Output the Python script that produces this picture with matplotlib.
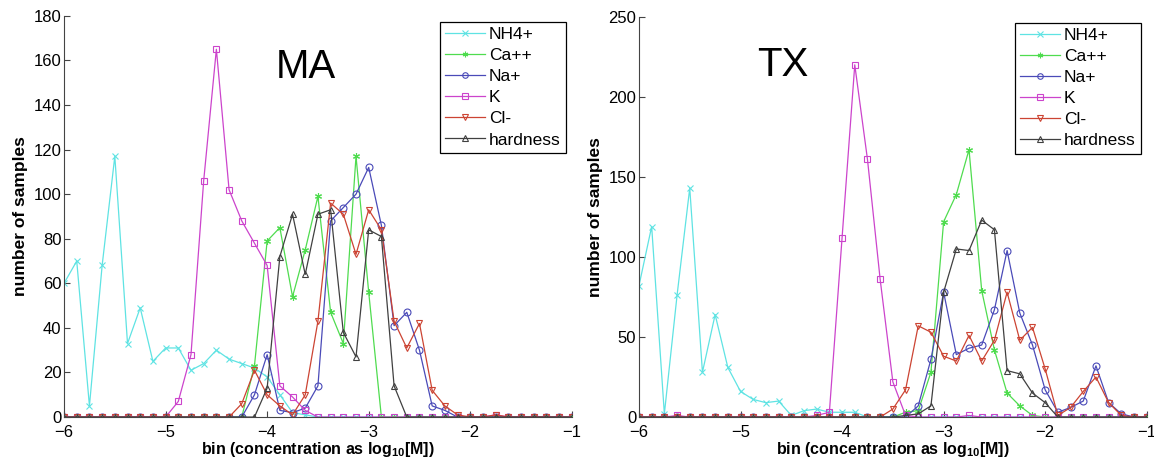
import numpy as np
import matplotlib
matplotlib.use("Agg")
from matplotlib import pyplot as plt

plt.rcParams['font.family'] = ['Liberation Sans', 'DejaVu Sans']
plt.rcParams['mathtext.fontset'] = 'custom'
plt.rcParams['mathtext.rm'] = 'Liberation Sans'
plt.rcParams['mathtext.bf'] = 'Liberation Sans:bold'

# bins: log10 concentration, 8 per decade
bins = np.arange(41) * 0.125 - 6

names = ['NH4+', 'Ca++', 'Na+', 'K', 'Cl-', 'hardness']

# MA counts per bin
ma_nh4 = [60, 70, 5, 68, 117, 33, 49, 25, 31, 31, 21, 24, 30, 26, 24, 22, 18, 10, 2, 1,
          0, 0, 0, 0, 0, 0, 0, 0, 0, 0, 0, 0, 0, 0, 0, 0, 0, 0, 0, 0, 0]
ma_ca = [0, 0, 0, 0, 0, 0, 0, 0, 0, 0, 0, 0, 0, 0, 0, 23, 79, 85, 54, 75,
         99, 47, 33, 117, 56, 0, 0, 0, 0, 0, 0, 0, 0, 0, 0, 0, 0, 0, 0, 0, 0]
ma_na = [0, 0, 0, 0, 0, 0, 0, 0, 0, 0, 0, 0, 0, 0, 0, 10, 28, 3, 2, 4,
         14, 88, 94, 100, 112, 86, 41, 47, 30, 5, 3, 0, 0, 0, 0, 0, 0, 0, 0, 0, 0]
ma_k = [0, 0, 0, 0, 0, 0, 0, 0, 0, 7, 28, 106, 165, 102, 88, 78, 68, 14, 9, 3,
        0, 0, 0, 0, 0, 0, 0, 0, 0, 0, 0, 0, 0, 0, 1, 0, 0, 0, 0, 0, 0]
ma_cl = [0, 0, 0, 0, 0, 0, 0, 0, 0, 0, 0, 0, 0, 0, 6, 21, 10, 5, 1, 10,
         43, 96, 91, 73, 93, 84, 43, 31, 42, 12, 5, 1, 0, 0, 1, 0, 0, 0, 0, 0, 0]
ma_hard = [0, 0, 0, 0, 0, 0, 0, 0, 0, 0, 0, 0, 0, 0, 0, 0, 13, 72, 91, 64,
           91, 93, 38, 27, 84, 81, 14, 0, 0, 0, 0, 0, 0, 0, 0, 0, 0, 0, 0, 0, 0]

# TX counts per bin
tx_nh4 = [82, 119, 2, 76, 143, 28, 64, 31, 16, 11, 9, 10, 1, 4, 5, 3, 3, 3, 0, 0,
          0, 0, 0, 0, 0, 0, 0, 0, 0, 0, 0, 0, 0, 0, 0, 0, 0, 0, 0, 0, 0]
tx_ca = [0, 0, 0, 0, 0, 0, 0, 0, 0, 0, 0, 0, 0, 0, 0, 0, 0, 0, 0, 0,
         0, 3, 4, 28, 122, 139, 167, 79, 42, 15, 7, 1, 0, 0, 0, 0, 0, 0, 0, 0, 0]
tx_na = [0, 0, 0, 0, 0, 0, 0, 0, 0, 0, 0, 0, 0, 0, 0, 0, 0, 0, 0, 0,
         0, 0, 7, 36, 78, 39, 43, 45, 67, 104, 65, 45, 17, 3, 6, 10, 32, 9, 2, 0, 0]
tx_k = [0, 0, 0, 1, 0, 0, 0, 0, 0, 0, 0, 0, 0, 0, 1, 3, 112, 220, 161, 86,
        22, 1, 0, 0, 0, 0, 1, 0, 0, 0, 0, 0, 0, 0, 0, 0, 0, 0, 0, 0, 0]
tx_cl = [0, 0, 0, 0, 0, 0, 0, 0, 0, 0, 0, 0, 0, 0, 0, 0, 0, 0, 0, 0,
         5, 17, 57, 53, 38, 35, 51, 35, 48, 78, 48, 56, 30, 1, 6, 16, 25, 9, 1, 0, 0]
tx_hard = [0, 0, 0, 0, 0, 0, 0, 0, 0, 0, 0, 0, 0, 0, 0, 0, 0, 0, 0, 0,
           0, 1, 2, 7, 78, 105, 104, 123, 117, 29, 27, 15, 9, 0, 0, 0, 0, 0, 0, 0, 0]

colors = ['#5fe3e3', '#4fdc4f', '#4a4ab8', '#cc44cc', '#cc4433', '#404040']
markers = ['x', (6, 2, 0), 'o', 's', 'v', '^']


def draw(ax, series, title, ymax, ystep, tx, ty):
    for k in range(len(series)):
        ax.plot(bins, series[k], color=colors[k], marker=markers[k], ms=5,
                mfc='none', mec=colors[k], lw=0.9, mew=0.8, label=names[k])
    ax.set_xlim(-6, -1)
    ax.set_ylim(0, ymax)
    ax.set_xticks(np.arange(-6, -0.5, 1))
    ax.set_yticks(np.arange(0, ymax + 1, ystep))
    ax.tick_params(direction='in', labelsize=12, length=4, color='#444444', pad=2)
    ax.tick_params(axis='x', pad=6)
    for s in ['top', 'right']:
        ax.spines[s].set_visible(False)
    for s in ['left', 'bottom']:
        ax.spines[s].set_color('#444444')
    ax.set_xlabel('bin (concentration as log$_{\\mathbf{10}}$[M])',
                  fontsize=11.5, fontweight='bold', labelpad=0)
    ax.set_ylabel('number of samples', fontsize=12.5, fontweight='bold', labelpad=4)
    ax.text(tx, ty, title, transform=ax.transAxes, fontsize=29,
            ha='center', va='center')
    leg = ax.legend(loc='upper right', bbox_to_anchor=(0.988, 0.985), borderaxespad=0,
                    fontsize=12.5, fancybox=False, edgecolor='black', framealpha=1,
                    handlelength=2.3, handletextpad=0.2, borderpad=0.3,
                    labelspacing=0.34, markerscale=0.8)
    leg.get_frame().set_linewidth(0.9)


fig = plt.figure(figsize=(11.54, 4.66), dpi=100)
ax1 = fig.add_axes([0.0555, 0.105, 0.440, 0.861])
ax2 = fig.add_axes([0.5537, 0.105, 0.440, 0.859])

draw(ax1, [ma_nh4, ma_ca, ma_na, ma_k, ma_cl, ma_hard], 'MA', 180, 20, 0.476, 0.873)
draw(ax2, [tx_nh4, tx_ca, tx_na, tx_k, tx_cl, tx_hard], 'TX', 250, 50, 0.283, 0.88)

plt.savefig('out.png', dpi=100)
